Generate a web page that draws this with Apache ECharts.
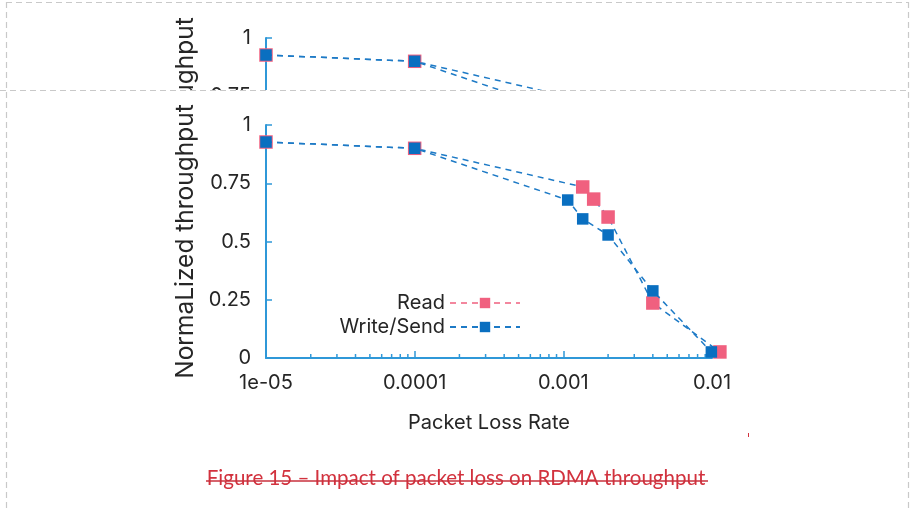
<!DOCTYPE html>
<html>
<head>
<meta charset="utf-8">
<script src="https://cdn.jsdelivr.net/npm/echarts@6/dist/echarts.min.js"></script>
<style>
  html, body { margin: 0; padding: 0; background: #ffffff; }
  #clipTop { position: absolute; left: 0; top: 0; width: 912px; height: 90px; overflow: hidden; z-index: 1; }
  #copy { position: absolute; left: 0; top: -87px; width: 912px; height: 508px; }
  #main { position: absolute; left: 0; top: 0; width: 912px; height: 508px; z-index: 2; }
</style>
</head>
<body>
<div id="clipTop"><div id="copy"></div></div>
<div id="main"></div>
<script>
// ---- data ----
const readX  = [1e-5, 1e-4, 0.00135, 0.0016, 0.002, 0.004, 0.0113];
const readY  = [0.927, 0.90, 0.734, 0.682, 0.605, 0.236, 0.026];
const writeX = [1e-5, 1e-4, 0.00107, 0.00135, 0.002, 0.004, 0.0099];
const writeY = [0.927, 0.90, 0.678, 0.597, 0.528, 0.288, 0.026];
const xTickLabels = ['1e-05', '0.0001', '0.001', '0.01'];
const yTickLabels = ['0', '0.25', '0.5', '0.75', '1'];
const minorTicks = [];
for (let d = -5; d < -2; d++) {
  for (let m = 2; m <= 9; m++) minorTicks.push([m * Math.pow(10, d)]);
}
const seriesNames = ['Read', 'Write/Send'];
const caption = 'Figure 15 \u2013 Impact of packet loss on RDMA throughput';

const PINK = '#f0607f';
const BLUE = '#0a6fc0';
const LINE = '#1d7ac6';
const AXIS = '#2f98d8';
const TXT = '#262626';
const FONT = 'Inter, Roboto, sans-serif';

function pairs(xs, ys) { return xs.map((x, i) => [x, ys[i]]); }

function buildOption(withDecor) {
  const opt = {
    animation: false,
    textStyle: { fontFamily: FONT },
    grid: { left: 266, right: 200, top: 125, bottom: 150, containLabel: false },
    xAxis: {
      type: 'log', logBase: 10, min: 1e-5, max: 1e-2,
      name: 'Packet Loss Rate', nameLocation: 'middle', nameGap: 55,
      nameTextStyle: { color: TXT, fontSize: 20, fontFamily: FONT },
      axisLine: { lineStyle: { color: AXIS, width: 2 } },
      axisTick: { inside: true, length: 7, lineStyle: { color: AXIS, width: 1.5 } },
      axisLabel: {
        color: TXT, fontSize: 20, margin: 15, fontFamily: FONT,
        formatter: v => xTickLabels[Math.round(Math.log10(v)) + 5] || ''
      },
      splitLine: { show: false }
    },
    yAxis: {
      type: 'value', min: 0, max: 1, interval: 0.25,
      name: 'NormaLized throughput', nameLocation: 'middle', nameGap: 68,
      nameTextStyle: { color: TXT, fontSize: 24.5, fontFamily: FONT },
      axisLine: { show: true, lineStyle: { color: AXIS, width: 2 } },
      axisTick: { show: true, inside: true, length: 6, lineStyle: { color: AXIS, width: 1.5 } },
      axisLabel: {
        color: TXT, fontSize: 20, margin: 15, fontFamily: FONT,
        formatter: v => yTickLabels[Math.round(v * 4)]
      },
      splitLine: { show: false }
    },
    legend: {
      orient: 'vertical', align: 'right', right: 386, top: 288,
      itemWidth: 70, itemHeight: 13, itemGap: 4,
      textStyle: { color: TXT, fontSize: 20, fontFamily: FONT },
      data: [
        { name: seriesNames[0], lineStyle: { color: PINK, type: [6, 5], width: 1.5 } },
        { name: seriesNames[1] }
      ]
    },
    series: [
      {
        name: 'minor', type: 'custom', silent: true, clip: false, z: 1,
        data: minorTicks,
        renderItem: (params, api) => {
          const p = api.coord([api.value(0), 0]);
          return { type: 'line', shape: { x1: p[0], y1: p[1], x2: p[0], y2: p[1] - 4 },
                   style: { stroke: AXIS, lineWidth: 1.5 } };
        }
      },
      {
        name: seriesNames[0], type: 'line', clip: false, z: 3,
        data: pairs(readX, readY),
        symbol: 'rect', symbolSize: 13.5,
        itemStyle: { color: PINK },
        lineStyle: { color: LINE, width: 1.5, type: [6, 5] }
      },
      {
        name: seriesNames[1], type: 'line', clip: false, z: 4,
        data: pairs(writeX, writeY),
        symbol: 'rect', symbolSize: 11.5,
        itemStyle: { color: BLUE },
        lineStyle: { color: LINE, width: 1.5, type: [6, 5] }
      }
    ]
  };
  if (withDecor) {
    const dash = { stroke: '#c9c9c9', lineWidth: 1.2, lineDash: [6, 4] };
    opt.graphic = [
      { type: 'line', shape: { x1: 6, y1: 2.5, x2: 909, y2: 2.5 }, style: dash, silent: true },
      { type: 'line', shape: { x1: 0, y1: 90.5, x2: 909, y2: 90.5 }, style: dash, silent: true },
      { type: 'line', shape: { x1: 6.5, y1: 2, x2: 6.5, y2: 508 }, style: dash, silent: true },
      { type: 'line', shape: { x1: 908.5, y1: 2, x2: 908.5, y2: 508 }, style: dash, silent: true },
      { type: 'text', left: 'center', top: 468,
        style: { text: caption, fill: '#d2323e', fontSize: 20.5, fontFamily: 'Lato, "Open Sans", sans-serif' } },
      { type: 'line', shape: { x1: 206, y1: 481, x2: 708, y2: 481 }, style: { stroke: '#c8303c', lineWidth: 1.6 } },
      { type: 'line', shape: { x1: 748.5, y1: 433, x2: 748.5, y2: 437 }, style: { stroke: '#d2323e', lineWidth: 1 } }
    ];
  }
  return opt;
}

echarts.init(document.getElementById('copy'), null, { renderer: 'canvas' }).setOption(buildOption(false));
echarts.init(document.getElementById('main'), null, { renderer: 'canvas' }).setOption(buildOption(true));
</script>
</body>
</html>
